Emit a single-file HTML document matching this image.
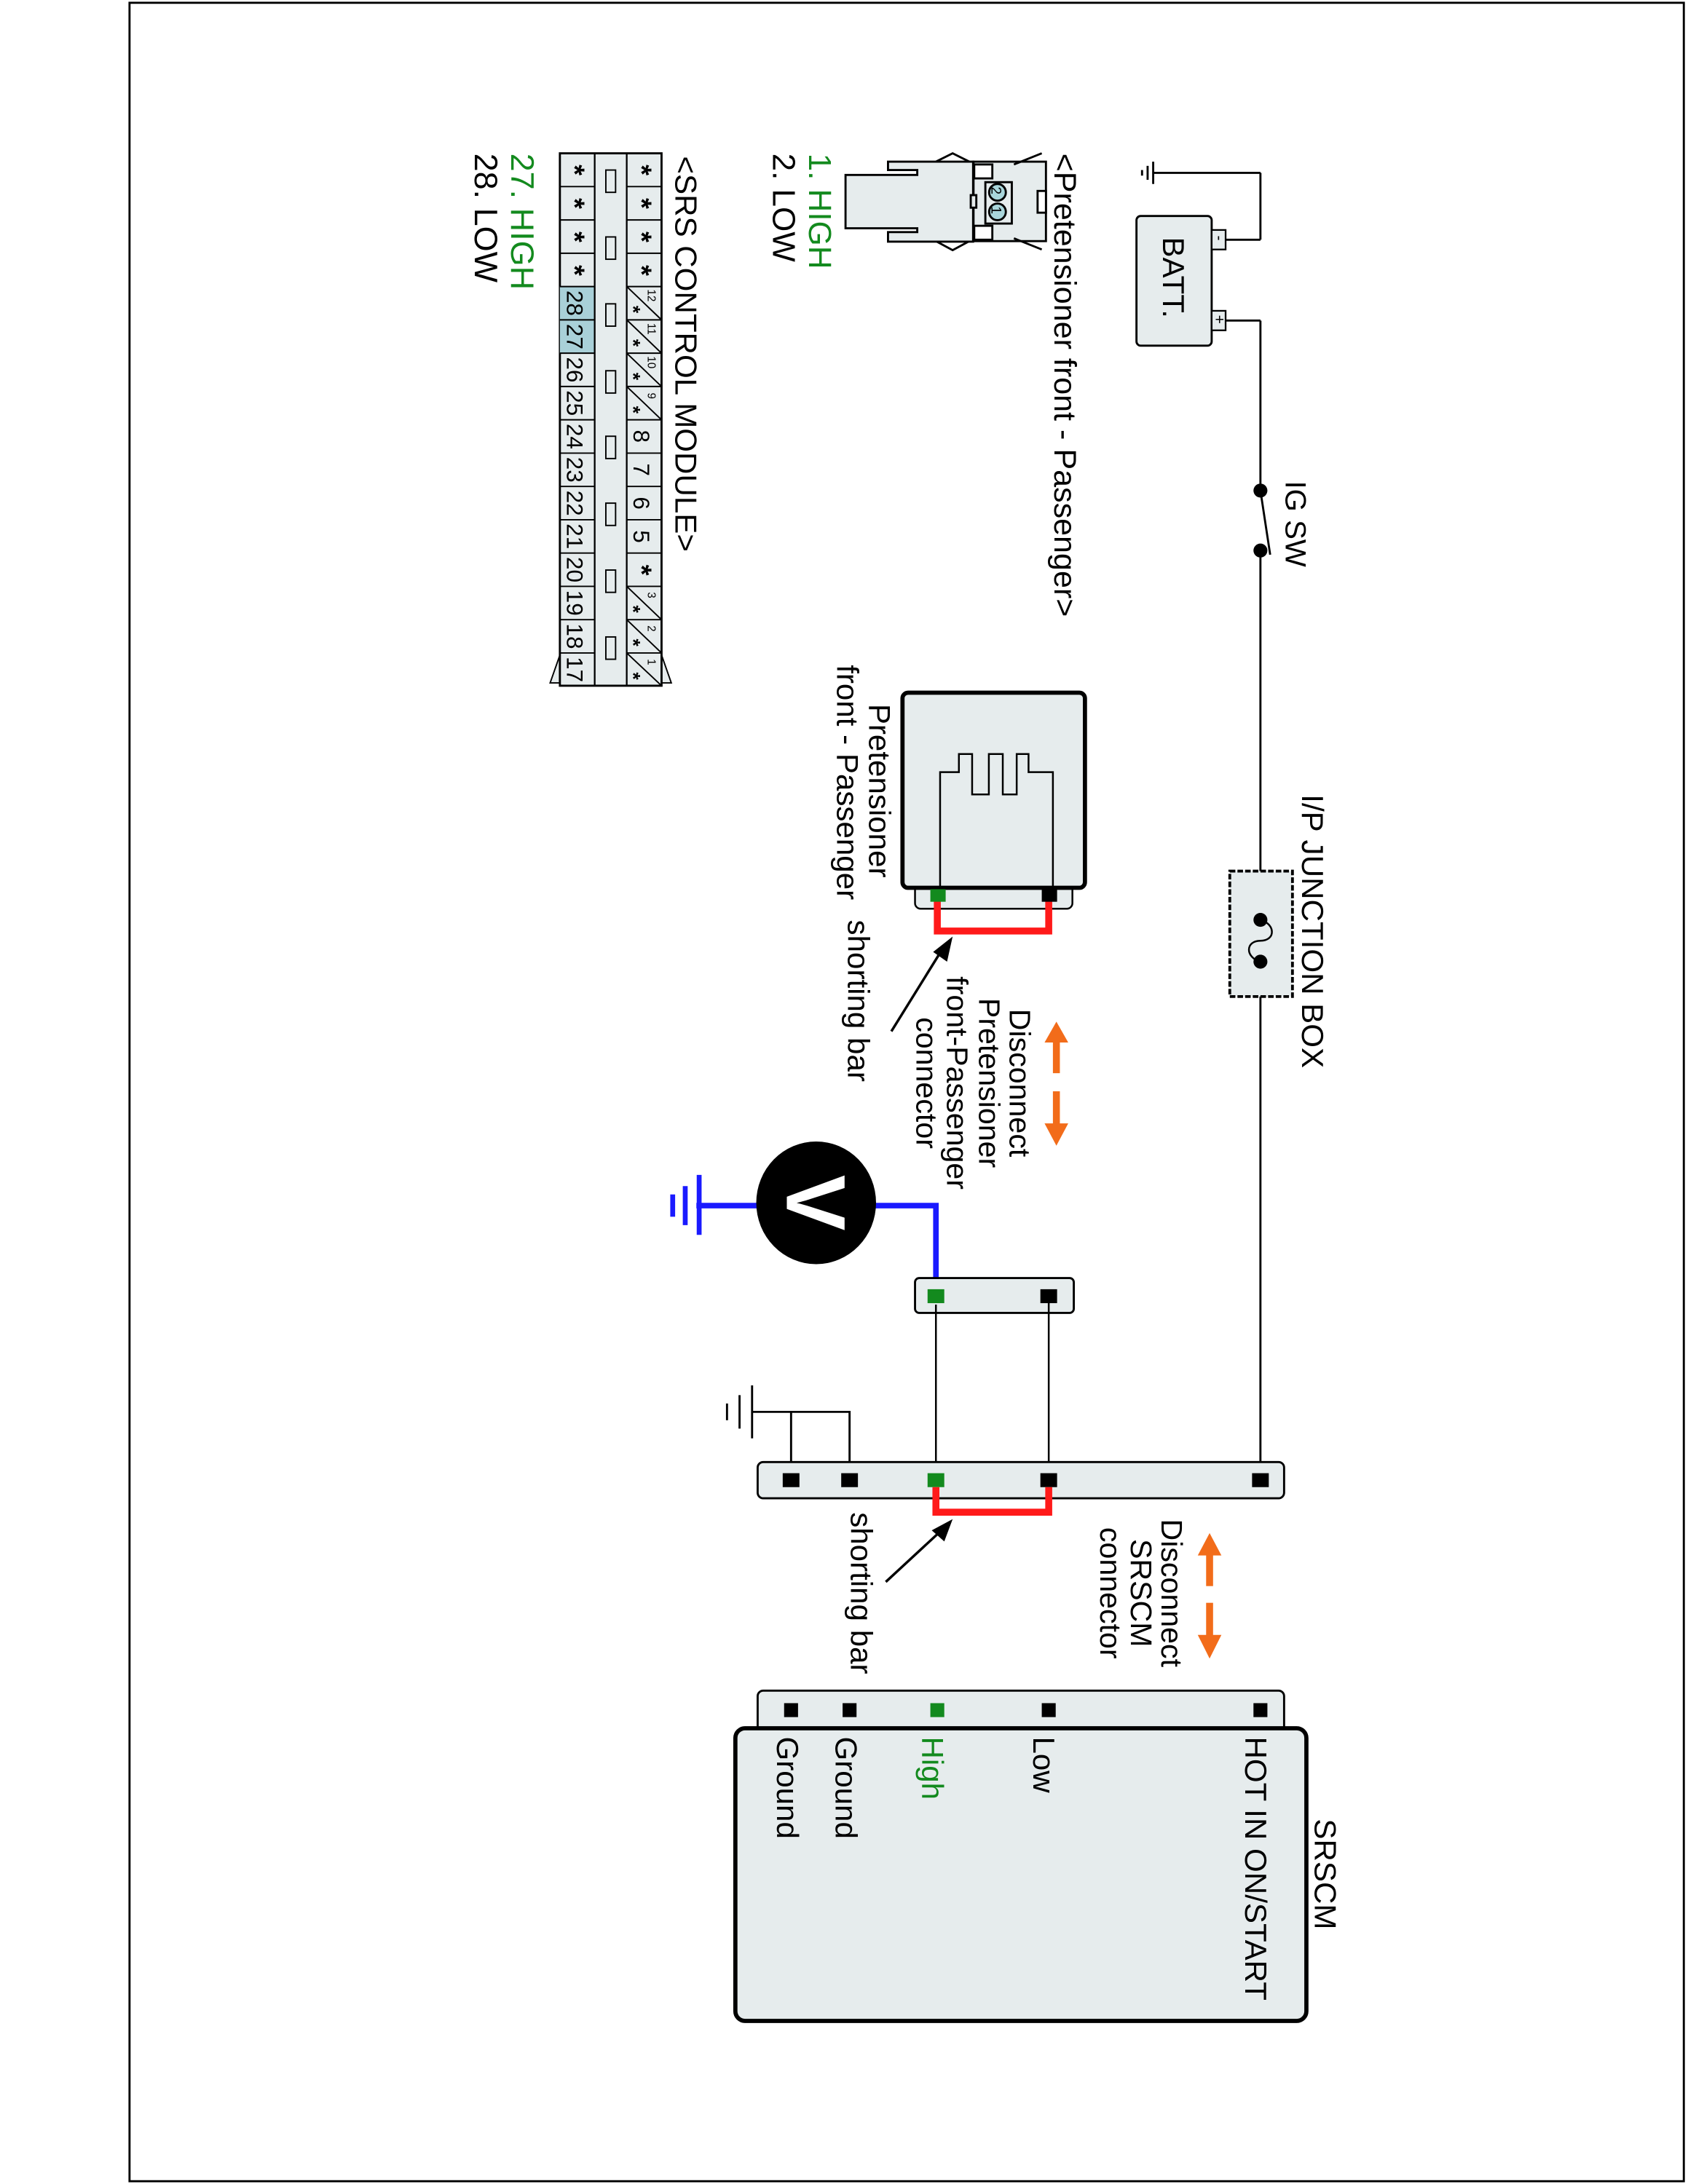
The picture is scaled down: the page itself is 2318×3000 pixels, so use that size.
<!DOCTYPE html>
<html><head><meta charset="utf-8"><style>
html,body{margin:0;padding:0;background:#fff;}
svg{display:block;}
text{font-family:"Liberation Sans",Arial,sans-serif;}
</style></head><body>
<svg width="2318" height="3000" viewBox="0 0 1212 1567" preserveAspectRatio="none" xmlns="http://www.w3.org/2000/svg">
<rect x="0" y="0" width="1212" height="1567" fill="#fff"/>
<rect x="93" y="2" width="1116" height="1563" fill="none" stroke="#000" stroke-width="1.5"/>

<!-- battery circuit -->
<g stroke="#000" stroke-width="1.5" fill="none">
<line x1="828" y1="124" x2="905" y2="124"/>
<line x1="905" y1="124" x2="905" y2="172"/>
<line x1="905" y1="172" x2="878" y2="172"/>
<line x1="878" y1="230" x2="905" y2="230"/>
<line x1="905" y1="230" x2="905" y2="1062"/>
<line x1="828" y1="116" x2="828" y2="132"/>
<line x1="824" y1="119" x2="824" y2="129"/>
<line x1="820" y1="122" x2="820" y2="126"/>
</g>
<rect x="816" y="155" width="54" height="93" rx="3" fill="#e6eced" stroke="#000" stroke-width="1.5"/>
<rect x="870" y="165" width="10" height="14" fill="#e6eced" stroke="#000" stroke-width="1.2"/>
<rect x="870" y="223" width="10" height="14" fill="#e6eced" stroke="#000" stroke-width="1.2"/>
<text transform="translate(872,169) rotate(90)" font-size="11">-</text>
<text transform="translate(872,226) rotate(90)" font-size="11">+</text>
<text transform="translate(835,170) rotate(90)" font-size="22">BATT.</text>

<!-- IG SW -->
<rect x="900" y="355" width="10" height="40" fill="#fff"/>
<circle cx="905" cy="352" r="5" fill="#000"/>
<circle cx="905" cy="395" r="5" fill="#000"/>
<line x1="905" y1="352" x2="912" y2="398" stroke="#000" stroke-width="1.5"/>
<text transform="translate(923,345) rotate(90)" font-size="21">IG SW</text>

<!-- junction box -->
<rect x="883" y="625" width="45" height="90" fill="#e6eced" stroke="#000" stroke-width="2" stroke-dasharray="4,1.5"/>
<rect x="900" y="660" width="10" height="30" fill="#e6eced"/>
<circle cx="905" cy="660" r="5" fill="#000"/>
<circle cx="905" cy="690" r="5" fill="#000"/>
<path d="M905 660 C916 663 916 675 905 675 C894 675 894 687 905 690" fill="none" stroke="#000" stroke-width="1.3"/>
<text transform="translate(935,570) rotate(90)" font-size="22">I/P JUNCTION BOX</text>

<!-- pretensioner component -->
<rect x="657" y="630" width="113" height="22" rx="4" fill="#e6eced" stroke="#000" stroke-width="1.3"/>
<rect x="648" y="497" width="131" height="140" rx="4" fill="#e6eced" stroke="#000" stroke-width="3"/>
<path d="M675 636 V554 H688.5 V541 H698 V570 H710 V541 H720 V570 H730 V541 H738.5 V554 H756 V636" fill="none" stroke="#000" stroke-width="1.3"/>
<path d="M673 646 V668 H753 V646" fill="none" stroke="#ff1a1a" stroke-width="5"/>
<rect x="668" y="638" width="11" height="9" fill="#138a1e"/>
<rect x="748" y="638" width="11" height="9" fill="#000"/>
<line x1="640" y1="740" x2="676" y2="682" stroke="#000" stroke-width="1.8"/>
<polygon points="684,672 680,690 670,683" fill="#000"/>
<text transform="translate(624,505) rotate(90)" font-size="22">Pretensioner</text>
<text transform="translate(601,477) rotate(90)" font-size="22">front - Passenger</text>
<text transform="translate(609,660) rotate(90)" font-size="22">shorting bar</text>

<!-- disconnect labels pretensioner -->
<g font-size="21.5" text-anchor="middle">
<text transform="translate(725,777) rotate(90)">Disconnect</text>
<text transform="translate(703,777) rotate(90)">Pretensioner</text>
<text transform="translate(680,777) rotate(90)">front-Passenger</text>
<text transform="translate(658,777) rotate(90)">connector</text>
</g>
<g fill="#f26c1a">
<rect x="756" y="745" width="5" height="25"/><polygon points="750,748 767,748 758.5,733"/>
<rect x="756" y="783" width="5" height="25"/><polygon points="750,806 767,806 758.5,822"/>
<rect x="866" y="1113" width="5" height="25"/><polygon points="860,1116 877,1116 868.5,1100"/>
<rect x="866" y="1150" width="5" height="25"/><polygon points="860,1173 877,1173 868.5,1190"/>
</g>

<!-- voltmeter -->
<path d="M628 865 H672 V930" fill="none" stroke="#1a1aff" stroke-width="4"/>
<line x1="500" y1="865" x2="545" y2="865" stroke="#1a1aff" stroke-width="4"/>
<line x1="502" y1="843" x2="502" y2="886" stroke="#1a1aff" stroke-width="3.5"/>
<line x1="492" y1="851" x2="492" y2="879" stroke="#1a1aff" stroke-width="3.5"/>
<line x1="483" y1="857" x2="483" y2="873" stroke="#1a1aff" stroke-width="3.5"/>
<ellipse cx="586" cy="863" rx="43" ry="44" fill="#000"/>
<text transform="translate(565,863) rotate(90)" font-size="60" font-weight="bold" fill="#fff" text-anchor="middle">V</text>

<!-- middle connector -->
<rect x="657" y="917" width="114" height="25" rx="3" fill="#e6eced" stroke="#000" stroke-width="1.5"/>
<line x1="672" y1="936" x2="672" y2="1060" stroke="#000" stroke-width="1.3"/>
<line x1="753" y1="930" x2="753" y2="1060" stroke="#000" stroke-width="1.3"/>
<rect x="666" y="925" width="12" height="10" fill="#138a1e"/>
<rect x="747" y="925" width="12" height="10" fill="#000"/>

<!-- ground near SRSCM connector -->
<g stroke="#000" stroke-width="1.5" fill="none">
<path d="M540 1013 H610 V1060"/>
<line x1="568" y1="1013" x2="568" y2="1060"/>
<line x1="540" y1="994" x2="540" y2="1032"/>
<line x1="531" y1="1001" x2="531" y2="1025"/>
<line x1="522" y1="1007" x2="522" y2="1019"/>
</g>

<!-- SRSCM harness connector -->
<rect x="544" y="1049" width="378" height="26" rx="4" fill="#e6eced" stroke="#000" stroke-width="1.5"/>
<rect x="562" y="1057" width="12" height="10" fill="#000"/>
<rect x="604" y="1057" width="12" height="10" fill="#000"/>
<rect x="666" y="1057" width="12" height="10" fill="#138a1e"/>
<rect x="747" y="1057" width="12" height="10" fill="#000"/>
<rect x="899" y="1057" width="12" height="10" fill="#000"/>
<path d="M672 1067 V1085 H753 V1067" fill="none" stroke="#ff1a1a" stroke-width="5"/>
<line x1="636" y1="1135" x2="676" y2="1098" stroke="#000" stroke-width="1.8"/>
<polygon points="684,1090 678,1106 669,1098" fill="#000"/>
<text transform="translate(611,1085) rotate(90)" font-size="22">shorting bar</text>
<g font-size="21.5" text-anchor="middle">
<text transform="translate(834,1143) rotate(90)">Disconnect</text>
<text transform="translate(812,1143) rotate(90)">SRSCM</text>
<text transform="translate(790,1143) rotate(90)">connector</text>
</g>

<!-- SRSCM -->
<rect x="544" y="1213" width="378" height="32" rx="4" fill="#e6eced" stroke="#000" stroke-width="1.5"/>
<rect x="528" y="1240" width="410" height="210" rx="7" fill="#e6eced" stroke="#000" stroke-width="3"/>
<rect x="563" y="1222" width="10" height="10" fill="#000"/>
<rect x="605" y="1222" width="10" height="10" fill="#000"/>
<rect x="668" y="1222" width="10" height="10" fill="#138a1e"/>
<rect x="748" y="1222" width="10" height="10" fill="#000"/>
<rect x="900" y="1222" width="10" height="10" fill="#000"/>
<g font-size="22">
<text transform="translate(894,1246) rotate(90)">HOT IN ON/START</text>
<text transform="translate(742,1246) rotate(90)">Low</text>
<text transform="translate(662,1246) rotate(90)" fill="#138a1e">High</text>
<text transform="translate(600,1246) rotate(90)">Ground</text>
<text transform="translate(558,1246) rotate(90)">Ground</text>
<text transform="translate(944,1305) rotate(90)">SRSCM</text>
</g>

<!-- Pretensioner connector drawing -->
<g stroke="#000" stroke-width="1.5" fill="#e6eced">
<polyline points="672,116 684,110 696,116" fill="none"/>
<polyline points="672,173 684,179.5 696,173" fill="none"/>
<rect x="699" y="116" width="52" height="57"/>
<polygon points="637.6,116 698.7,116 698.7,173.4 637.6,173.4 637.6,166.5 658.6,166.5 658.6,163.8 607.1,163.8 607.1,125.5 658.6,125.5 658.6,122 637.6,122"/>
<rect x="699.5" y="118" width="13" height="10" fill="#fff"/>
<rect x="699.5" y="162" width="13" height="10" fill="#fff"/>
<rect x="697" y="140" width="4" height="9"/>
<rect x="707.5" y="130.7" width="19" height="29.7"/>
<rect x="745" y="137" width="6" height="15.6" fill="#fff"/>
<line x1="728" y1="118" x2="748" y2="110" fill="none"/>
<line x1="728" y1="171" x2="748" y2="179" fill="none"/>
<circle cx="716.2" cy="138" r="6" fill="#a9d6db"/>
<circle cx="716.2" cy="152" r="6" fill="#a9d6db"/>
</g>
<text transform="translate(712,134) rotate(90)" font-size="10">2</text>
<text transform="translate(712,148) rotate(90)" font-size="10">1</text>
<text transform="translate(757,110) rotate(90)" font-size="22.5">&lt;Pretensioner front - Passenger&gt;</text>
<text transform="translate(581,110) rotate(90)" font-size="23" fill="#138a1e">1. HIGH</text>
<text transform="translate(555,110) rotate(90)" font-size="23">2. LOW</text>

<!-- SRS control module connector table -->
<polygon points="402,470 395,490 402,490" fill="#e6eced" stroke="#000" stroke-width="1"/>
<polygon points="475,470 482,490 475,490" fill="#e6eced" stroke="#000" stroke-width="1"/>
<rect x="402" y="110" width="73" height="382" fill="#e6eced" stroke="#000" stroke-width="1.5"/>
<rect x="402" y="205.6" width="25" height="47.8" fill="#a9d0d8"/>
<line x1="427" y1="110" x2="427" y2="492" stroke="#000" stroke-width="1.2"/>
<line x1="450" y1="110" x2="450" y2="492" stroke="#000" stroke-width="1.2"/>
<g stroke="#000" stroke-width="1">
<line x1="402" y1="133.9" x2="427" y2="133.9"/><line x1="450" y1="133.9" x2="475" y2="133.9"/>
<line x1="402" y1="157.8" x2="427" y2="157.8"/><line x1="450" y1="157.8" x2="475" y2="157.8"/>
<line x1="402" y1="181.7" x2="427" y2="181.7"/><line x1="450" y1="181.7" x2="475" y2="181.7"/>
<line x1="402" y1="205.6" x2="427" y2="205.6"/><line x1="450" y1="205.6" x2="475" y2="205.6"/>
<line x1="402" y1="229.5" x2="427" y2="229.5"/><line x1="450" y1="229.5" x2="475" y2="229.5"/>
<line x1="402" y1="253.4" x2="427" y2="253.4"/><line x1="450" y1="253.4" x2="475" y2="253.4"/>
<line x1="402" y1="277.3" x2="427" y2="277.3"/><line x1="450" y1="277.3" x2="475" y2="277.3"/>
<line x1="402" y1="301.2" x2="427" y2="301.2"/><line x1="450" y1="301.2" x2="475" y2="301.2"/>
<line x1="402" y1="325.1" x2="427" y2="325.1"/><line x1="450" y1="325.1" x2="475" y2="325.1"/>
<line x1="402" y1="349" x2="427" y2="349"/><line x1="450" y1="349" x2="475" y2="349"/>
<line x1="402" y1="372.9" x2="427" y2="372.9"/><line x1="450" y1="372.9" x2="475" y2="372.9"/>
<line x1="402" y1="396.8" x2="427" y2="396.8"/><line x1="450" y1="396.8" x2="475" y2="396.8"/>
<line x1="402" y1="420.7" x2="427" y2="420.7"/><line x1="450" y1="420.7" x2="475" y2="420.7"/>
<line x1="402" y1="444.6" x2="427" y2="444.6"/><line x1="450" y1="444.6" x2="475" y2="444.6"/>
<line x1="402" y1="468.5" x2="427" y2="468.5"/><line x1="450" y1="468.5" x2="475" y2="468.5"/>
<line x1="450" y1="205.6" x2="475" y2="229.5"/>
<line x1="450" y1="229.5" x2="475" y2="253.4"/>
<line x1="450" y1="253.4" x2="475" y2="277.3"/>
<line x1="450" y1="277.3" x2="475" y2="301.2"/>
<line x1="450" y1="420.7" x2="475" y2="444.6"/>
<line x1="450" y1="444.6" x2="475" y2="468.5"/>
<line x1="450" y1="468.5" x2="475" y2="492"/>
</g>
<g fill="none" stroke="#000" stroke-width="1">
<rect x="435" y="122" width="7" height="16"/>
<rect x="435" y="170" width="7" height="16"/>
<rect x="435" y="218" width="7" height="16"/>
<rect x="435" y="266" width="7" height="16"/>
<rect x="435" y="313" width="7" height="16"/>
<rect x="435" y="361" width="7" height="16"/>
<rect x="435" y="409" width="7" height="16"/>
<rect x="435" y="457" width="7" height="16"/>
</g>
<g font-size="20" font-weight="bold" text-anchor="middle">
<text transform="translate(406,122) rotate(90)">*</text>
<text transform="translate(406,146) rotate(90)">*</text>
<text transform="translate(406,170) rotate(90)">*</text>
<text transform="translate(406,194) rotate(90)">*</text>
<text transform="translate(454,122) rotate(90)">*</text>
<text transform="translate(454,146) rotate(90)">*</text>
<text transform="translate(454,170) rotate(90)">*</text>
<text transform="translate(454,194) rotate(90)">*</text>
<text transform="translate(454,409) rotate(90)">*</text>
</g>
<g font-size="14" font-weight="bold" text-anchor="middle">
<text transform="translate(450,222) rotate(90)">*</text>
<text transform="translate(450,246) rotate(90)">*</text>
<text transform="translate(450,270) rotate(90)">*</text>
<text transform="translate(450,294) rotate(90)">*</text>
<text transform="translate(450,437) rotate(90)">*</text>
<text transform="translate(450,461) rotate(90)">*</text>
<text transform="translate(450,485) rotate(90)">*</text>
</g>
<g font-size="8" text-anchor="middle">
<text transform="translate(465,212) rotate(90)">12</text>
<text transform="translate(465,236) rotate(90)">11</text>
<text transform="translate(465,260) rotate(90)">10</text>
<text transform="translate(465,284) rotate(90)">9</text>
<text transform="translate(465,427) rotate(90)">3</text>
<text transform="translate(465,451) rotate(90)">2</text>
<text transform="translate(465,475) rotate(90)">1</text>
</g>
<g font-size="16.5" text-anchor="middle">
<text transform="translate(455,313) rotate(90)">8</text>
<text transform="translate(455,337) rotate(90)">7</text>
<text transform="translate(455,361) rotate(90)">6</text>
<text transform="translate(455,385) rotate(90)">5</text>
<text transform="translate(407,217.5) rotate(90)">28</text>
<text transform="translate(407,241.5) rotate(90)">27</text>
<text transform="translate(407,265.3) rotate(90)">26</text>
<text transform="translate(407,289.2) rotate(90)">25</text>
<text transform="translate(407,313.1) rotate(90)">24</text>
<text transform="translate(407,337) rotate(90)">23</text>
<text transform="translate(407,361) rotate(90)">22</text>
<text transform="translate(407,384.8) rotate(90)">21</text>
<text transform="translate(407,408.7) rotate(90)">20</text>
<text transform="translate(407,432.6) rotate(90)">19</text>
<text transform="translate(407,456.5) rotate(90)">18</text>
<text transform="translate(407,480.3) rotate(90)">17</text>
</g>
<text transform="translate(485,112) rotate(90)" font-size="22">&lt;SRS CONTROL MODULE&gt;</text>
<text transform="translate(367,110) rotate(90)" font-size="23.5" fill="#138a1e">27. HIGH</text>
<text transform="translate(341,110) rotate(90)" font-size="23.5">28. LOW</text>
</svg>
</body></html>
